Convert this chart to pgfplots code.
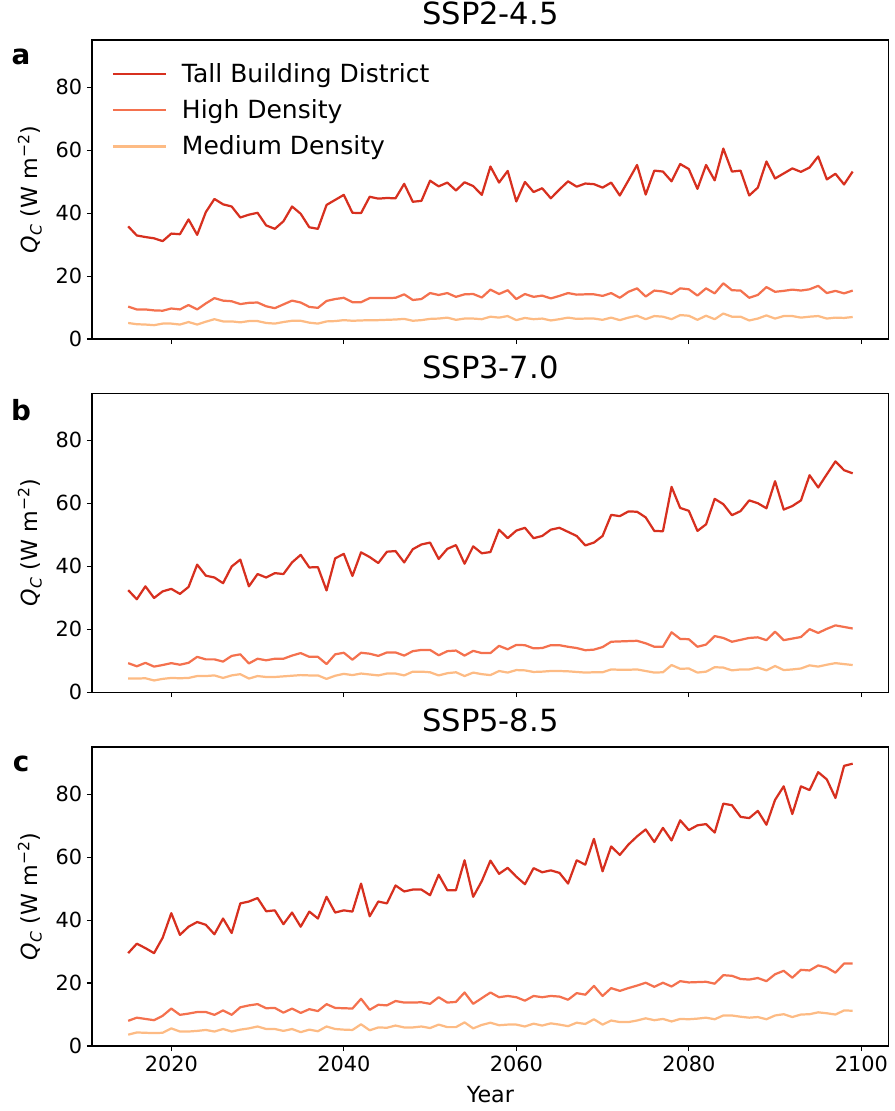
\documentclass[border=0pt]{standalone}
\usepackage{fontspec}
\setmainfont{DejaVu Sans}
\usepackage{pgfplots}
\pgfplotsset{compat=1.18}
\usepackage{pgfplotstable}

\definecolor{tbd}{RGB}{215,48,31}
\definecolor{hd}{RGB}{244,113,78}
\definecolor{md}{RGB}{253,187,132}

% year, Tall Building District, High Density, Medium Density
\pgfplotstableread{
year tbd hd md
2015 35.8 10.3 5.1
2016 32.9 9.4 4.7
2017 32.4 9.4 4.6
2018 32.0 9.1 4.4
2019 31.1 9.0 4.9
2020 33.5 9.7 4.9
2021 33.3 9.4 4.6
2022 38.0 10.8 5.4
2023 33.1 9.4 4.6
2024 40.3 11.3 5.5
2025 44.5 13.0 6.3
2026 42.8 12.2 5.6
2027 42.1 12.0 5.6
2028 38.6 11.1 5.3
2029 39.5 11.5 5.7
2030 40.1 11.6 5.7
2031 36.1 10.4 5.1
2032 35.0 9.8 4.9
2033 37.4 11.0 5.4
2034 42.1 12.2 5.8
2035 39.8 11.6 5.8
2036 35.5 10.2 5.2
2037 35.0 9.9 4.9
2038 42.6 12.1 5.6
2039 44.2 12.7 5.7
2040 45.8 13.1 6.0
2041 40.1 11.7 5.8
2042 40.0 11.7 5.9
2043 45.2 13.0 6.0
2044 44.6 13.0 6.0
2045 44.8 13.0 6.1
2046 44.7 13.1 6.2
2047 49.3 14.2 6.4
2048 43.6 12.4 5.8
2049 43.9 12.7 6.0
2050 50.3 14.6 6.4
2051 48.5 14.0 6.5
2052 49.7 14.6 6.8
2053 47.2 13.4 6.1
2054 49.8 14.2 6.5
2055 48.6 14.3 6.5
2056 45.8 13.2 6.3
2057 54.8 15.7 7.1
2058 49.7 14.3 6.8
2059 53.4 15.5 7.3
2060 43.7 12.7 6.0
2061 49.9 14.3 6.7
2062 46.7 13.4 6.3
2063 47.9 13.8 6.5
2064 44.7 12.9 5.9
2065 47.5 13.7 6.3
2066 50.1 14.6 6.8
2067 48.4 14.1 6.4
2068 49.4 14.2 6.5
2069 49.2 14.2 6.5
2070 48.1 13.7 6.1
2071 49.7 14.6 6.8
2072 45.6 13.1 6.0
2073 50.4 15.0 6.8
2074 55.3 16.1 7.4
2075 45.9 13.5 6.3
2076 53.5 15.4 7.3
2077 53.2 15.1 7.1
2078 50.1 14.3 6.3
2079 55.6 16.1 7.6
2080 54.0 15.8 7.4
2081 47.7 13.8 6.1
2082 55.3 16.1 7.4
2083 50.4 14.5 6.3
2084 60.5 17.7 8.1
2085 53.2 15.5 7.1
2086 53.5 15.4 7.1
2087 45.6 13.1 5.9
2088 48.1 14.0 6.5
2089 56.4 16.5 7.5
2090 51.0 15.0 6.5
2091 52.6 15.3 7.3
2092 54.2 15.7 7.3
2093 53.1 15.4 6.8
2094 54.5 15.8 7.1
2095 58.0 16.9 7.3
2096 50.7 14.6 6.5
2097 52.5 15.3 6.8
2098 49.1 14.5 6.7
2099 53.2 15.4 7.0
}\sspa

\pgfplotstableread{
year tbd hd md
2015 32.4 9.2 4.3
2016 29.5 8.2 4.3
2017 33.6 9.3 4.4
2018 29.9 8.1 3.7
2019 32.0 8.6 4.2
2020 32.8 9.2 4.5
2021 31.2 8.7 4.4
2022 33.4 9.3 4.5
2023 40.5 11.2 5.1
2024 37.0 10.4 5.1
2025 36.4 10.4 5.3
2026 34.6 9.7 4.5
2027 39.9 11.5 5.3
2028 42.1 12.0 5.7
2029 33.6 9.1 4.3
2030 37.5 10.6 5.1
2031 36.4 10.1 4.8
2032 37.8 10.6 4.8
2033 37.5 10.6 5.0
2034 41.2 11.6 5.2
2035 43.6 12.4 5.4
2036 39.6 11.2 5.3
2037 39.7 11.2 5.3
2038 32.3 8.9 4.2
2039 42.5 12.0 5.2
2040 43.9 12.5 5.8
2041 36.9 10.3 5.4
2042 44.4 12.5 5.9
2043 42.9 12.2 5.6
2044 41.0 11.5 5.3
2045 44.6 12.6 5.9
2046 44.8 12.6 5.9
2047 41.2 11.6 5.3
2048 45.4 13.0 6.5
2049 46.9 13.4 6.5
2050 47.5 13.4 6.3
2051 42.3 11.7 5.3
2052 45.5 13.0 6.0
2053 46.7 13.2 6.3
2054 40.8 11.6 5.1
2055 46.3 13.1 6.2
2056 44.1 12.4 5.7
2057 44.5 12.4 5.4
2058 51.6 14.7 6.7
2059 48.9 13.6 6.2
2060 51.3 15.0 7.0
2061 52.2 14.9 6.9
2062 48.9 13.9 6.4
2063 49.6 14.0 6.5
2064 51.6 14.9 6.7
2065 52.2 14.9 6.7
2066 50.9 14.4 6.6
2067 49.6 14.0 6.4
2068 46.6 13.3 6.2
2069 47.5 13.5 6.3
2070 49.6 14.3 6.3
2071 56.3 16.0 7.2
2072 55.9 16.1 7.1
2073 57.4 16.2 7.1
2074 57.3 16.3 7.2
2075 55.5 15.5 6.7
2076 51.2 14.4 6.2
2077 51.1 14.4 6.3
2078 65.2 19.0 8.6
2079 58.5 16.9 7.4
2080 57.6 16.8 7.5
2081 51.2 14.4 6.2
2082 53.3 15.1 6.5
2083 61.4 17.8 7.9
2084 59.7 17.2 7.8
2085 56.2 16.0 6.9
2086 57.5 16.6 7.2
2087 60.9 17.2 7.2
2088 60.0 17.4 7.8
2089 58.4 16.5 6.9
2090 67.0 19.2 8.3
2091 58.0 16.5 7.0
2092 59.1 17.0 7.2
2093 60.9 17.5 7.5
2094 68.9 20.0 8.5
2095 65.0 18.8 8.1
2096 69.2 20.1 8.7
2097 73.3 21.2 9.2
2098 70.5 20.7 8.9
2099 69.5 20.2 8.6
}\sspb

\pgfplotstableread{
year tbd hd md
2015 29.5 8.0 3.6
2016 32.5 9.0 4.3
2017 31.1 8.6 4.2
2018 29.5 8.2 4.1
2019 34.4 9.6 4.2
2020 42.2 11.9 5.6
2021 35.3 9.9 4.6
2022 37.9 10.3 4.6
2023 39.4 10.8 4.8
2024 38.5 10.8 5.1
2025 35.5 9.9 4.6
2026 40.5 11.3 5.4
2027 35.9 9.9 4.6
2028 45.3 12.3 5.2
2029 45.9 12.9 5.6
2030 47.0 13.3 6.2
2031 42.8 12.0 5.4
2032 43.1 12.1 5.4
2033 38.7 10.6 4.8
2034 42.4 11.9 5.4
2035 37.9 10.5 4.4
2036 42.7 11.7 5.2
2037 40.5 11.1 4.7
2038 47.4 13.3 6.2
2039 42.4 12.1 5.4
2040 43.1 12.0 5.2
2041 42.7 11.9 5.1
2042 51.6 15.0 6.9
2043 41.2 11.5 5.0
2044 45.9 13.1 5.9
2045 45.3 12.9 5.8
2046 51.0 14.3 6.5
2047 49.1 13.8 5.9
2048 49.7 13.8 5.9
2049 49.7 13.9 6.2
2050 47.9 13.4 5.7
2051 54.4 15.5 6.8
2052 49.5 13.8 6.0
2053 49.5 14.0 6.0
2054 59.0 17.0 7.5
2055 47.4 13.4 5.6
2056 52.4 15.2 6.7
2057 58.9 17.0 7.4
2058 54.7 15.5 6.6
2059 56.6 15.9 6.8
2060 53.8 15.5 6.8
2061 51.4 14.4 6.2
2062 56.5 15.9 7.1
2063 55.2 15.5 6.5
2064 55.8 15.9 7.2
2065 55.0 15.7 6.8
2066 51.6 14.7 6.3
2067 59.0 16.8 7.4
2068 57.6 16.3 7.0
2069 65.8 19.1 8.5
2070 55.5 15.9 6.8
2071 63.4 18.4 8.1
2072 60.7 17.5 7.6
2073 64.0 18.4 7.6
2074 66.6 19.2 8.1
2075 68.8 20.1 8.8
2076 64.8 18.8 8.2
2077 69.3 20.1 8.6
2078 65.3 18.9 7.8
2079 71.7 20.6 8.6
2080 68.6 20.2 8.5
2081 70.1 20.3 8.7
2082 70.5 20.4 9.0
2083 67.8 19.8 8.5
2084 77.0 22.5 9.7
2085 76.5 22.3 9.7
2086 72.8 21.3 9.3
2087 72.4 21.1 9.0
2088 74.7 21.6 9.2
2089 70.3 20.6 8.5
2090 78.2 22.8 9.7
2091 82.5 23.9 10.1
2092 73.7 21.7 9.2
2093 82.5 24.2 10.0
2094 81.3 24.0 10.1
2095 87.0 25.6 10.7
2096 84.7 24.9 10.4
2097 78.8 23.3 10.0
2098 89.0 26.2 11.3
2099 89.7 26.2 11.2
}\sspc

\pgfplotsset{
  ssp/.style={
    width=573.8pt, height=215.3pt, scale only axis,
    xmin=2010.8, xmax=2103.2, ymin=0, ymax=95,
    xtick={2020,2040,2060,2080,2100},
    ytick={0,20,40,60,80},
    tick align=outside, tick pos=left,
    major tick length=3.6pt,
    axis line style={line width=0.8pt},
    every tick/.style={black, line width=0.8pt},
    tick label style={font=\fontsize{15}{18}\selectfont},
    /pgf/number format/assume math mode=true,
    xticklabel style={/pgf/number format/1000 sep={}},
    ylabel={\textit{Q}\textsubscript{\textit{C}} (W m\textsuperscript{−2})},
    ylabel style={font=\fontsize{16}{19}\selectfont,
      at={(axis description cs:-0.078,0.5)}, anchor=center},
    title style={font=\fontsize{22}{26}\selectfont, yshift=1pt},
    every axis plot/.append style={line width=1.6pt, line join=round},
  },
}

\begin{document}
\begin{tikzpicture}
% SSP2-4.5
\begin{axis}[ssp, name=a, title={SSP2-4.5}, xticklabels={},
    legend style={draw=none, fill=none, at={(axis description cs:0,1)},
      anchor=north west, xshift=11pt, yshift=-12.5pt,
      font=\fontsize{18}{21}\selectfont, row sep=7pt,
      legend cell align=left,
      /tikz/every odd column/.append style={column sep=9pt}},
    legend image code/.code={\draw[#1] (0pt,0pt) -- (38pt,0pt);}]
\addplot[tbd] table[x=year, y=tbd] {\sspa};
\addlegendentry{Tall Building District}
\addplot[hd] table[x=year, y=hd] {\sspa};
\addlegendentry{High Density}
\addplot[md] table[x=year, y=md] {\sspa};
\addlegendentry{Medium Density}
\end{axis}

% SSP3-7.0
\begin{axis}[ssp, name=b, at={(0pt,-254.2pt)}, title={SSP3-7.0}, xticklabels={}]
\addplot[tbd] table[x=year, y=tbd] {\sspb};
\addplot[hd] table[x=year, y=hd] {\sspb};
\addplot[md] table[x=year, y=md] {\sspb};
\end{axis}

% SSP5-8.5
\begin{axis}[ssp, name=c, at={(0pt,-509.0pt)}, title={SSP5-8.5},
    xlabel={Year}, xlabel style={font=\fontsize{16}{19}\selectfont, yshift=-4pt}]
\addplot[tbd] table[x=year, y=tbd] {\sspc};
\addplot[hd] table[x=year, y=hd] {\sspc};
\addplot[md] table[x=year, y=md] {\sspc};
\end{axis}

\foreach \p in {a,b,c}
  \node[font=\bfseries\fontsize{20}{24}\selectfont, inner sep=0pt]
    at ([xshift=-51pt, yshift=-12pt]\p.north west) {\p};

% page size as in the reference
\pgfresetboundingbox
\path[use as bounding box] ([xshift=-66.2pt, yshift=28.8pt]a.north west)
  rectangle ([xshift=4.3pt, yshift=-46.8pt]c.south east);
\end{tikzpicture}
\end{document}
